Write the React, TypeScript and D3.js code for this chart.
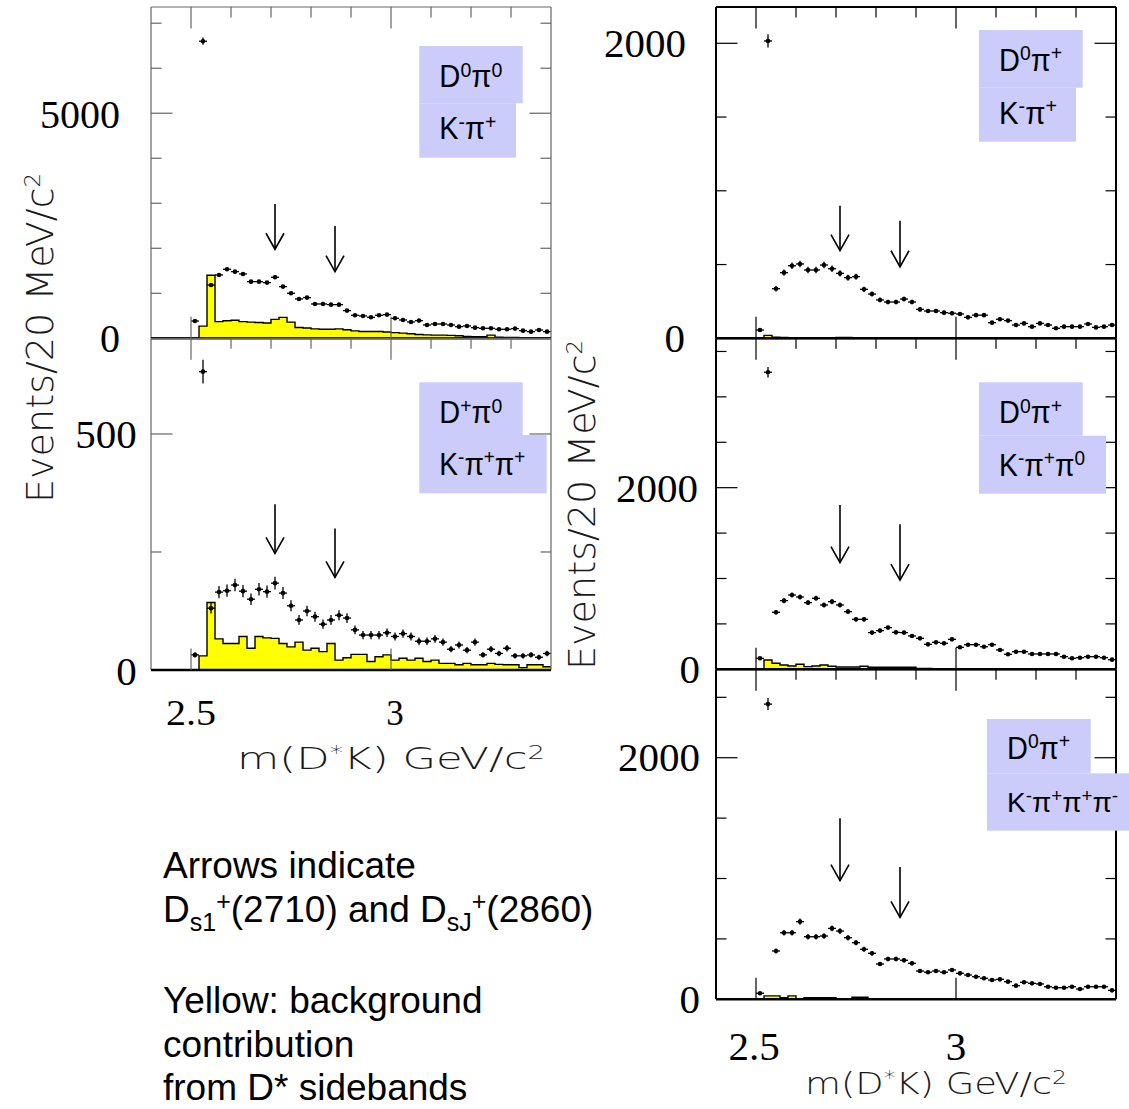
import React from 'react';
import * as d3 from 'd3';

// ---------- DATA ----------
const massBins: number[] = d3.range(45).map((i) => Math.round((2.51 + 0.02 * i) * 100) / 100);
const binWidth = 0.02;
const xDomain: [number, number] = [2.4, 3.4];
const xTickValues = [2.5, 2.6, 2.7, 2.8, 2.9, 3.0, 3.1, 3.2, 3.3];
const xMajorTicks = [2.5, 3.0];
const xTickLabels = ['2.5', '3'];
const arrowMasses = [2.71, 2.86];

// D0 pi0, K- pi+
const d0pi0KpiData = [384, 6600, 1184, 1407, 1533, 1481, 1430, 1259, 1259, 1237, 1356, 1148, 1000, 874, 904, 763, 763, 748, 748, 615, 511, 496, 467, 511, 526, 444, 407, 363, 393, 296, 318, 318, 296, 259, 274, 237, 222, 222, 200, 200, 215, 170, 148, 185, 148];
const d0pi0KpiBkg = [0, 270, 1400, 370, 390, 400, 370, 360, 350, 340, 420, 465, 360, 240, 230, 210, 200, 200, 210, 190, 165, 150, 150, 150, 140, 125, 115, 100, 85, 75, 70, 70, 65, 55, 40, 35, 35, 70, 25, 20, 20, 15, 15, 10, 10];
const d0pi0KpiArrowTails = [2984, 2496];
const d0pi0KpiArrowTips = [1978, 1480];

// D+ pi0, K- pi+ pi+
const dppi0Data = [32, 632, 131, 165, 168, 180, 167, 150, 171, 166, 184, 163, 136, 106, 125, 113, 97, 106, 116, 110, 85, 74, 74, 74, 79, 71, 77, 71, 61, 61, 66, 59, 44, 53, 42, 59, 32, 44, 35, 46, 30, 30, 32, 27, 35];
const dppi0Bkg = [0, 30, 143, 66, 56, 56, 71, 46, 71, 68, 67, 56, 49, 59, 42, 46, 39, 56, 21, 26, 33, 33, 18, 28, 32, 21, 25, 21, 25, 18, 21, 14, 14, 11, 14, 11, 11, 14, 12, 11, 11, 5, 11, 11, 7];
const dppi0ArrowTails = [351, 300];
const dppi0ArrowTips = [247, 196];

// D0 pi+, K- pi+
const d0pipKpiData = [56, 2016, 336, 445, 492, 504, 463, 463, 497, 472, 440, 411, 418, 332, 300, 260, 246, 246, 266, 246, 196, 185, 185, 174, 170, 165, 142, 157, 157, 106, 129, 120, 90, 101, 79, 101, 90, 68, 79, 79, 79, 97, 74, 79, 90];
const d0pipKpiBkg = [0, 20, 8, 5, 4, 3, 3, 2, 3, 4, 6, 6, 3, 2, 2, 2, 2, 2, 2, 1, 1, 1, 1, 1, 1, 1, 1, 1, 1, 1, 1, 1, 1, 1, 1, 1, 1, 1, 1, 1, 1, 1, 1, 1, 1];
const d0pipKpiArrowTails = [899, 797];
const d0pipKpiArrowTips = [594, 485];

// D0 pi+, K- pi+ pi0
const d0pipKpipi0Data = [121, 3271, 628, 756, 818, 796, 734, 782, 708, 745, 708, 635, 550, 550, 404, 426, 459, 407, 404, 367, 341, 275, 297, 286, 330, 242, 271, 271, 249, 271, 213, 165, 194, 194, 169, 169, 169, 169, 139, 121, 128, 139, 139, 128, 106];
const d0pipKpipi0Bkg = [0, 103, 66, 48, 37, 55, 29, 37, 48, 33, 26, 26, 26, 33, 22, 22, 22, 22, 22, 22, 8, 8, 6, 6, 6, 6, 5, 5, 5, 5, 5, 5, 4, 4, 4, 4, 4, 4, 3, 3, 3, 3, 3, 3, 3];
const d0pipKpipi0ArrowTails = [1809, 1597];
const d0pipKpipi0ArrowTips = [1174, 983];

// D0 pi+, K- pi+ pi+ pi-
const d0pipK3piData = [50, 2444, 400, 551, 551, 643, 518, 518, 524, 587, 565, 510, 469, 414, 381, 292, 334, 334, 323, 298, 234, 224, 234, 224, 243, 215, 201, 187, 174, 160, 165, 146, 113, 141, 132, 127, 104, 96, 96, 104, 85, 104, 104, 104, 74];
const d0pipK3piBkg = [0, 28, 28, 14, 28, 6, 14, 14, 14, 14, 6, 6, 17, 17, 4, 4, 4, 4, 4, 4, 3, 3, 3, 3, 3, 3, 3, 3, 3, 3, 3, 3, 3, 3, 3, 3, 3, 3, 3, 3, 3, 3, 3, 3, 3];
const d0pipK3piArrowTails = [1498, 1095];
const d0pipK3piArrowTips = [982, 679];

// ---------- LAYOUT ----------
type Seg = { t: string; s?: 'sup' | 'sub' };

type PanelCfg = {
  key: string;
  data: number[];
  bkg: number[];
  tails: number[];
  tips: number[];
  x0: number; x1: number; yTop: number; yBot: number; yMax: number;
  yTicks: number[]; yMajor: number[];
  yLabels: { v: number; text: string; xEnd: number; base: number; size: number }[];
  frameColor: string; frameWidth: number;
  boxes: { x: number; y: number; w: number; h: number }[];
  lines: { x: number; y: number; len?: number; size?: number; segs: Seg[] }[];
};

const LAV = '#ccccfa';

const panels: PanelCfg[] = [
  {
    key: 'tl', data: d0pi0KpiData, bkg: d0pi0KpiBkg, tails: d0pi0KpiArrowTails, tips: d0pi0KpiArrowTips,
    x0: 151, x1: 551, yTop: 7, yBot: 338.3, yMax: 7360,
    yTicks: [1000, 2000, 3000, 4000, 5000, 6000, 7000], yMajor: [5000],
    yLabels: [
      { v: 5000, text: '5000', xEnd: 120, base: 128.3, size: 40 },
      { v: 0, text: '0', xEnd: 120, base: 351.7, size: 40 },
    ],
    frameColor: '#666', frameWidth: 1.2,
    boxes: [{ x: 419.3, y: 46, w: 103.4, h: 57.3 }, { x: 419.3, y: 103.3, w: 96.7, h: 54.4 }],
    lines: [
      { x: 439.3, y: 87.3, len: 63, segs: [{ t: 'D' }, { t: '0', s: 'sup' }, { t: 'π' }, { t: '0', s: 'sup' }] },
      { x: 439.3, y: 139.3, len: 57, segs: [{ t: 'K' }, { t: '-', s: 'sup' }, { t: 'π' }, { t: '+', s: 'sup' }] },
    ],
  },
  {
    key: 'bl', data: dppi0Data, bkg: dppi0Bkg, tails: dppi0ArrowTails, tips: dppi0ArrowTips,
    x0: 151, x1: 551, yTop: 338.3, yBot: 670, yMax: 702.7,
    yTicks: [250, 500], yMajor: [500],
    yLabels: [
      { v: 500, text: '500', xEnd: 136.7, base: 448.3, size: 41 },
      { v: 0, text: '0', xEnd: 136.7, base: 685, size: 41 },
    ],
    frameColor: '#666', frameWidth: 1.2,
    boxes: [{ x: 419.3, y: 382.3, w: 103.4, h: 52.7 }, { x: 419.3, y: 435, w: 127.4, h: 58.3 }],
    lines: [
      { x: 439.3, y: 423.3, len: 63, segs: [{ t: 'D' }, { t: '+', s: 'sup' }, { t: 'π' }, { t: '0', s: 'sup' }] },
      { x: 439.3, y: 475, len: 86, segs: [{ t: 'K' }, { t: '-', s: 'sup' }, { t: 'π' }, { t: '+', s: 'sup' }, { t: 'π' }, { t: '+', s: 'sup' }] },
    ],
  },
  {
    key: 'tr', data: d0pipKpiData, bkg: d0pipKpiBkg, tails: d0pipKpiArrowTails, tips: d0pipKpiArrowTips,
    x0: 716, x1: 1116, yTop: 7, yBot: 338.3, yMax: 2246,
    yTicks: [500, 1000, 1500, 2000], yMajor: [2000],
    yLabels: [
      { v: 2000, text: '2000', xEnd: 686, base: 57, size: 41 },
      { v: 0, text: '0', xEnd: 685, base: 352, size: 41 },
    ],
    frameColor: '#000', frameWidth: 2,
    boxes: [{ x: 979, y: 30, w: 103.7, h: 57.7 }, { x: 979, y: 87.7, w: 97, h: 54 }],
    lines: [
      { x: 999, y: 71, len: 63, segs: [{ t: 'D' }, { t: '0', s: 'sup' }, { t: 'π' }, { t: '+', s: 'sup' }] },
      { x: 999, y: 124, len: 58, segs: [{ t: 'K' }, { t: '-', s: 'sup' }, { t: 'π' }, { t: '+', s: 'sup' }] },
    ],
  },
  {
    key: 'mr', data: d0pipKpipi0Data, bkg: d0pipKpipi0Bkg, tails: d0pipKpipi0ArrowTails, tips: d0pipKpipi0ArrowTips,
    x0: 716, x1: 1116, yTop: 338.3, yBot: 669.3, yMax: 3645,
    yTicks: [500, 1000, 1500, 2000, 2500, 3000, 3500], yMajor: [2000],
    yLabels: [
      { v: 2000, text: '2000', xEnd: 698, base: 502, size: 41 },
      { v: 0, text: '0', xEnd: 700, base: 683, size: 41 },
    ],
    frameColor: '#000', frameWidth: 2,
    boxes: [{ x: 979, y: 382.3, w: 103.7, h: 53.4 }, { x: 979, y: 435.7, w: 127, h: 58 }],
    lines: [
      { x: 999, y: 423.3, len: 63, segs: [{ t: 'D' }, { t: '0', s: 'sup' }, { t: 'π' }, { t: '+', s: 'sup' }] },
      { x: 999, y: 475.7, len: 86, segs: [{ t: 'K' }, { t: '-', s: 'sup' }, { t: 'π' }, { t: '+', s: 'sup' }, { t: 'π' }, { t: '0', s: 'sup' }] },
    ],
  },
  {
    key: 'br', data: d0pipK3piData, bkg: d0pipK3piBkg, tails: d0pipK3piArrowTails, tips: d0pipK3piArrowTips,
    x0: 716, x1: 1116, yTop: 669.3, yBot: 999.3, yMax: 2732,
    yTicks: [500, 1000, 1500, 2000, 2500], yMajor: [2000],
    yLabels: [
      { v: 2000, text: '2000', xEnd: 700, base: 771, size: 41 },
      { v: 0, text: '0', xEnd: 700, base: 1013, size: 41 },
    ],
    frameColor: '#000', frameWidth: 2,
    boxes: [{ x: 987, y: 719, w: 103.7, h: 54.3 }, { x: 987, y: 773.3, w: 142, h: 57.4 }],
    lines: [
      { x: 1007, y: 759, len: 63, segs: [{ t: 'D' }, { t: '0', s: 'sup' }, { t: 'π' }, { t: '+', s: 'sup' }] },
      { x: 1007, y: 811.7, size: 28, segs: [{ t: 'K' }, { t: '-', s: 'sup' }, { t: 'π' }, { t: '+', s: 'sup' }, { t: 'π' }, { t: '+', s: 'sup' }, { t: 'π' }, { t: '-', s: 'sup' }] },
    ],
  },
];

function Rich({ x, y, segs, size, small, up, down, family, fill, anchor, textLength, weight }: any) {
  let cur = 0;
  const kids = segs.map((sg: Seg, i: number) => {
    const target = sg.s === 'sup' ? -up : sg.s === 'sub' ? down : 0;
    const dy = target - cur;
    cur = target;
    return (
      <tspan key={i} dy={dy} fontSize={sg.s ? small : size}>{sg.t}</tspan>
    );
  });
  return (
    <text x={x} y={y} fontFamily={family} fontSize={size} fill={fill} textAnchor={anchor} fontWeight={weight}
      textLength={textLength} lengthAdjust={textLength ? 'spacingAndGlyphs' : undefined}>
      {kids}
    </text>
  );
}

function Panel({ p }: { p: PanelCfg }) {
  const x = d3.scaleLinear().domain(xDomain).range([p.x0, p.x1]);
  const y = d3.scaleLinear().domain([0, p.yMax]).range([p.yBot, p.yTop]);
  const edges = massBins.map((m) => m - binWidth / 2).concat([massBins[massBins.length - 1] + binWidth / 2]);
  const vals = p.bkg.concat([p.bkg[p.bkg.length - 1]]);
  const area = d3.area<number>()
    .x((_d, i) => x(edges[i]))
    .y0(y(0))
    .y1((d) => y(d))
    .curve(d3.curveStepAfter);
  const line = d3.line<number>()
    .x((_d, i) => x(edges[i]))
    .y((d) => y(d))
    .curve(d3.curveStepAfter);

  const minorLen = 10.5, majorLen = 21.5;
  return (
    <g>
      {/* background histogram */}
      <path d={area(vals) || ''} fill="#ffff00" stroke="none" />
      <path d={line(vals) || ''} fill="none" stroke="#000" strokeWidth={1.4} />
      {/* data points */}
      {p.data.map((v, i) => {
        const m = massBins[i];
        const e = Math.sqrt(v);
        return (
          <g key={i}>
            <line x1={x(m - binWidth / 2)} x2={x(m + binWidth / 2)} y1={y(v)} y2={y(v)} stroke="#000" strokeWidth={1.3} />
            <line x1={x(m)} x2={x(m)} y1={y(v - e)} y2={y(v + e)} stroke="#000" strokeWidth={1.3} />
            <circle cx={x(m)} cy={y(v)} r={2.3} fill="#000" />
          </g>
        );
      })}
      {/* frame */}
      <line x1={p.x0} x2={p.x0} y1={p.yTop} y2={p.yBot} stroke={p.frameColor} strokeWidth={p.frameWidth} />
      <line x1={p.x1} x2={p.x1} y1={p.yTop} y2={p.yBot} stroke={p.frameColor} strokeWidth={p.frameWidth} />
      <line x1={p.x0} x2={p.x1} y1={p.yTop} y2={p.yTop} stroke={p.frameColor} strokeWidth={p.frameWidth} />
      <line x1={p.x0} x2={p.x1} y1={y(0)} y2={y(0)} stroke="#000" strokeWidth={2.6} />
      {/* x ticks */}
      {xTickValues.map((t) => {
        const major = xMajorTicks.some((m) => Math.abs(m - t) < 1e-6);
        const len = major ? majorLen : minorLen;
        return (
          <g key={'xt' + t}>
            <line x1={x(t)} x2={x(t)} y1={p.yTop} y2={p.yTop + len} stroke={p.frameColor} strokeWidth={1.2} />
            {major && <line x1={x(t)} x2={x(t)} y1={y(0)} y2={y(0) - len} stroke={p.frameColor} strokeWidth={1.2} />}
          </g>
        );
      })}
      {/* y ticks */}
      {p.yTicks.map((t) => {
        const len = p.yMajor.includes(t) ? majorLen : minorLen;
        return (
          <g key={'yt' + t}>
            <line x1={p.x0} x2={p.x0 + len} y1={y(t)} y2={y(t)} stroke={p.frameColor} strokeWidth={1.2} />
            <line x1={p.x1} x2={p.x1 - len} y1={y(t)} y2={y(t)} stroke={p.frameColor} strokeWidth={1.2} />
          </g>
        );
      })}
      {/* y labels */}
      {p.yLabels.map((l) => (
        <text key={'yl' + l.text + l.v} x={l.xEnd} y={l.base} textAnchor="end" fontFamily="'Liberation Serif', serif" fontSize={l.size} fill="#000">{l.text}</text>
      ))}
      {/* arrows */}
      {arrowMasses.map((m, i) => {
        const ax = x(m), ty = y(p.tips[i]), sy = y(p.tails[i]);
        return (
          <g key={'ar' + i} stroke="#000" strokeWidth={1.6} fill="none">
            <line x1={ax} x2={ax} y1={sy} y2={ty} />
            <path d={`M${ax - 9},${ty - 16}L${ax},${ty}L${ax + 9},${ty - 16}`} />
          </g>
        );
      })}
      {/* label boxes */}
      {p.boxes.map((b, i) => (
        <rect key={'bx' + i} x={b.x} y={b.y} width={b.w} height={b.h} fill={LAV} />
      ))}
      {p.lines.map((l, i) => {
        const sz = l.size || 31;
        return (
          <Rich key={'ln' + i} x={l.x} y={l.y} segs={l.segs} size={sz} small={sz * 0.67} up={sz * 0.34} down={0}
            family="'Liberation Sans', Arial, sans-serif" fill="#000" textLength={l.len} />
        );
      })}
    </g>
  );
}

const titleFont = "'DejaVu Sans', sans-serif";
const titleColor = '#1a1a1a';

export default function App() {
  const xl = d3.scaleLinear().domain(xDomain).range([151, 551]);
  const xr = d3.scaleLinear().domain(xDomain).range([716, 1116]);
  return (
    <svg width={1129} height={1109} viewBox="0 0 1129 1109"
      style={{ position: 'absolute', left: 0, top: 0, background: '#fff' }}>
      <rect x={0} y={0} width={1129} height={1109} fill="#fff" />
      {panels.map((p) => <Panel key={p.key} p={p} />)}

      {/* x tick labels */}
      <text x={xl(2.5)} y={725} textAnchor="middle" fontFamily="'Liberation Serif', serif" fontSize={35} textLength={50} lengthAdjust="spacingAndGlyphs">{xTickLabels[0]}</text>
      <text x={xl(3.0) + 4} y={725} textAnchor="middle" fontFamily="'Liberation Serif', serif" fontSize={35}>{xTickLabels[1]}</text>
      <text x={xr(2.5) - 2} y={1060} textAnchor="middle" fontFamily="'Liberation Serif', serif" fontSize={41}>{xTickLabels[0]}</text>
      <text x={xr(3.0)} y={1060} textAnchor="middle" fontFamily="'Liberation Serif', serif" fontSize={41}>{xTickLabels[1]}</text>

      {/* x titles */}
      <Rich x={237} y={769} segs={[{ t: 'm(D' }, { t: '*', s: 'sup' }, { t: 'K) GeV/c' }, { t: '2', s: 'sup' }]}
        size={30} small={19} up={10} down={0} family={titleFont} fill={titleColor} weight={200} textLength={308} />
      <Rich x={805} y={1094} segs={[{ t: 'm(D' }, { t: '*', s: 'sup' }, { t: 'K) GeV/c' }, { t: '2', s: 'sup' }]}
        size={30} small={19} up={10} down={0} family={titleFont} fill={titleColor} weight={200} textLength={262} />

      {/* y titles */}
      <g transform="translate(53,503) rotate(-90)">
        <Rich x={0} y={0} segs={[{ t: 'Events/20 MeV/c' }, { t: '2', s: 'sup' }]}
          size={37} small={22} up={13} down={0} family={titleFont} fill={titleColor} weight={200} textLength={330} />
      </g>
      <g transform="translate(595,670) rotate(-90)">
        <Rich x={0} y={0} segs={[{ t: 'Events/20 MeV/c' }, { t: '2', s: 'sup' }]}
          size={37} small={22} up={13} down={0} family={titleFont} fill={titleColor} weight={200} textLength={330} />
      </g>

      {/* notes */}
      <g fontFamily="'Liberation Sans', Arial, sans-serif" fill="#000">
        <text x={163} y={878} fontSize={37}>Arrows indicate</text>
        <Rich x={163} y={922} segs={[
          { t: 'D' }, { t: 's1', s: 'sub' }, { t: '+', s: 'sup' }, { t: '(2710) and D' },
          { t: 'sJ', s: 'sub' }, { t: '+', s: 'sup' }, { t: '(2860)' },
        ]} size={37} small={25} up={12} down={9} family="'Liberation Sans', Arial, sans-serif" fill="#000" />
        <text x={163} y={1013} fontSize={37}>Yellow: background</text>
        <text x={163} y={1057} fontSize={37}>contribution</text>
        <text x={163} y={1100} fontSize={37}>from D* sidebands</text>
      </g>
    </svg>
  );
}
